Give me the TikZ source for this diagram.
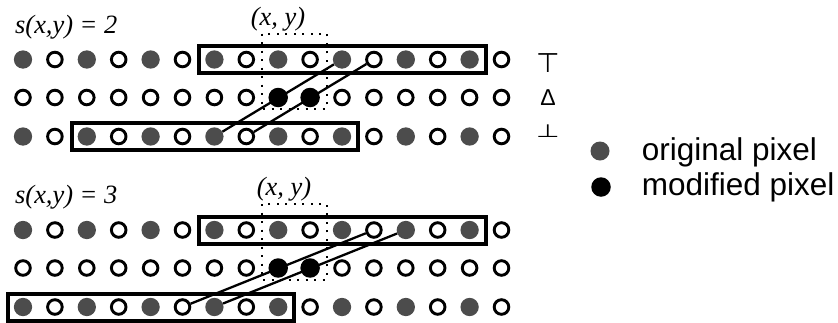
\documentclass[tikz,border=0pt]{standalone}
\usepackage{fontspec}
\setmainfont{Liberation Serif}
\newfontfamily\legendfont{Liberation Sans}
\newfontfamily\symfont{DejaVu Sans}
\usetikzlibrary{calc}
\definecolor{pixgray}{RGB}{76,76,76}

\begin{document}
\begin{tikzpicture}[x=1pt,y=-1pt,
  pix/.style={circle, inner sep=0pt},
  origpix/.style={pix, fill=pixgray, minimum size=18.3pt},
  emptypix/.style={pix, draw=black, line width=2.9pt, minimum size=14.6pt},
  modpix/.style={pix, fill=black, minimum size=19.5pt},
  frame/.style={draw, line width=4pt},
  window/.style={draw, line width=2pt, dash pattern=on 2pt off 6.5pt},
  link/.style={draw, line width=2.3pt},
  caption/.style={inner sep=0pt, font=\fontsize{26.4}{30}\selectfont\itshape},
  rowlabel/.style={inner sep=0pt},
  legendtext/.style={inner sep=0pt, anchor=base west, font=\fontsize{31.5}{36}\selectfont\legendfont},
]
\useasboundingbox (0,0) rectangle (838,322);

% two panels of three pixel rows, sixteen columns each
\foreach \p/\yy in {A/0,B/170.5}{
  \foreach \c in {0,...,15}{
    \pgfmathsetmacro\xx{23+31.9*\c}
    % rows 1 and 3: original pixels on even columns
    \ifodd\c
      \node[emptypix] (\p1c\c) at (\xx,\yy+59.5) {};
      \node[emptypix] (\p3c\c) at (\xx,\yy+136.5) {};
    \else
      \node[origpix] (\p1c\c) at (\xx,\yy+59.5) {};
      \node[origpix] (\p3c\c) at (\xx,\yy+136.5) {};
    \fi
    % row 2: the interpolated line, two modified pixels
    \pgfmathtruncatemacro\isMod{(\c==8)||(\c==9)}
    \ifnum\isMod=1
      \node[modpix] (\p2c\c) at (\xx,\yy+97.5) {};
    \else
      \node[emptypix] (\p2c\c) at (\xx,\yy+97.5) {};
    \fi
  }
  % the (x,y) window
  \draw[window] ($(\p1c8)+(-16,-26)$) rectangle ($(\p2c9)+(16.5,11.5)$);
  % matched segment in the upper row
  \draw[frame] ($(\p1c6)+(-15,-13.5)$) rectangle ($(\p1c14)+(16,13.5)$);
}

% matched segments in the lower rows, shifted by 2s columns
\draw[frame] ($(A3c2)+(-15,-13.5)$) rectangle ($(A3c10)+(16,13.5)$);
\draw[frame] ($(B3c0)+(-15,-13.5)$) rectangle ($(B3c8)+(16,13.5)$);

% interpolation lines through the modified pixels
\draw[link] (A3c6) -- (A1c10);
\draw[link] (A3c7) -- (A1c11);
\draw[link] (B3c5) -- (B1c11);
\draw[link] (B3c6) -- (B1c12);

% captions
\node[caption, anchor=west] (capA) at (15,27.5) {s(x,y) = 2};
\node[caption, anchor=west] (capB) at (15,197.5) {s(x,y) = 3};
\node[caption] (xyA) at (278,19) {(x, y)};
\node[caption] (xyB) at (284,189) {(x, y)};

% row labels
\node[rowlabel, font=\fontsize{27}{30}\selectfont\symfont] (top) at (548,63) {⊤};
\node[rowlabel, font=\fontsize{23}{26}\selectfont\legendfont] (delta) at (548,98) {Δ};
\node[rowlabel, font=\fontsize{27}{30}\selectfont\symfont] (bot) at (548,131) {\scalebox{1}[0.67]{⊥}};

% legend
\node[origpix, minimum size=19pt] (lo) at (600,151) {};
\node[modpix, minimum size=19.5pt] (lm) at (601,187) {};
\node[legendtext] (lot) at (641.7,160) {original pixel};
\node[legendtext] (lmt) at (641.7,195) {modified pixel};
\end{tikzpicture}
\end{document}
